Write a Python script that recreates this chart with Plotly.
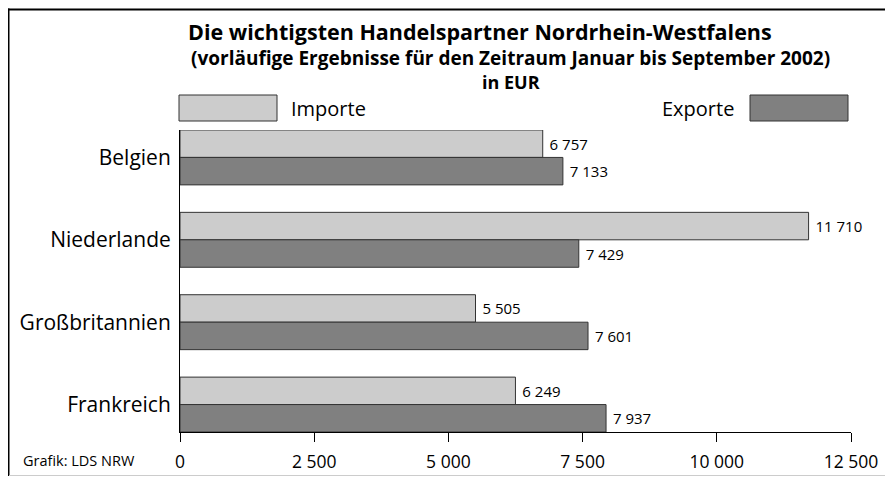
import plotly.graph_objects as go

categories = ["Belgien", "Niederlande", "Großbritannien", "Frankreich"]
importe = [6757, 11710, 5505, 6249]
exporte = [7133, 7429, 7601, 7937]
tick_vals = [0, 2500, 5000, 7500, 10000, 12500]
tick_text = ["0", "2 500", "5 000", "7 500", "10 000", "12 500"]
title_lines = ["Die wichtigsten Handelspartner Nordrhein-Westfalens",
               "(vorläufige Ergebnisse für den Zeitraum Januar bis September 2002)",
               "in EUR"]

def fmt(v):
    return "\u00a0" + f"{v:,}".replace(",", " ")

# page offset of the plot div (body margin)
OFF = 8
W, H = 893 - OFF, 477 - OFF
# plot area in page pixels
L, R, T, B = 180, 851, 130, 432
FONT = "Open Sans"

def px(x):
    return (x - L) / (R - L)

def py(y):
    return (B - y) / (B - T)

fig = go.Figure()
fig.add_trace(go.Bar(
    name="Importe", y=categories, x=importe, orientation="h",
    marker=dict(color="#cccccc", line=dict(color="#333333", width=1)),
    text=[fmt(v) for v in importe], textposition="outside",
    textfont=dict(family=FONT, size=15, color="black"), cliponaxis=False,
))
fig.add_trace(go.Bar(
    name="Exporte", y=categories, x=exporte, orientation="h",
    marker=dict(color="#808080", line=dict(color="#333333", width=1)),
    text=[fmt(v) for v in exporte], textposition="outside",
    textfont=dict(family=FONT, size=15, color="black"), cliponaxis=False,
))

shapes = [
    dict(type="rect", xref="paper", yref="paper", x0=px(179), x1=px(277), y0=py(121), y1=py(95),
         fillcolor="#cccccc", line=dict(color="#333333", width=1)),
    dict(type="rect", xref="paper", yref="paper", x0=px(750), x1=px(848), y0=py(121), y1=py(95),
         fillcolor="#808080", line=dict(color="#333333", width=1)),
    # frame
    dict(type="line", xref="paper", yref="paper", x0=px(8.5), x1=px(8.5), y0=py(8.5), y1=py(476),
         line=dict(color="black", width=2)),
    dict(type="line", xref="paper", yref="paper", x0=px(8), x1=px(890), y0=py(9.5), y1=py(9.5),
         line=dict(color="black", width=2)),
    dict(type="line", xref="paper", yref="paper", x0=px(889.5), x1=px(889.5), y0=py(10), y1=py(476),
         line=dict(color="#555555", width=1)),
    dict(type="line", xref="paper", yref="paper", x0=px(9), x1=px(890), y0=py(475.5), y1=py(475.5),
         line=dict(color="#cccccc", width=1)),
]

def ann(text, x, y, size, xanchor="center", yanchor="middle"):
    return dict(text=text, x=px(x), y=py(y), xref="paper", yref="paper", showarrow=False,
                xanchor=xanchor, yanchor=yanchor, align="center",
                font=dict(family=FONT, size=size, color="black"))

annotations = [
    ann(f"<b>{title_lines[0]}</b>", 480, 31, 21.5),
    ann(f"<b>{title_lines[1]}</b>", 510, 58, 19),
    ann(f"<b>{title_lines[2]}</b>", 511, 82, 18),
    ann("Importe", 289, 108, 20, "left"),
    ann("Exporte", 736, 108, 20, "right"),
    ann("Grafik: LDS NRW", 21, 460, 14.5, "left"),
]

fig.update_layout(
    width=W, height=H,
    margin=dict(l=L - OFF, r=893 - R, t=T - OFF, b=477 - B, pad=0, autoexpand=False),
    paper_bgcolor="white", plot_bgcolor="white",
    barmode="group", bargap=1/3, bargroupgap=0,
    showlegend=False,
    shapes=shapes, annotations=annotations,
    font=dict(family=FONT, color="black"),
    xaxis=dict(range=[0, 12500], tickvals=tick_vals, ticktext=tick_text, showgrid=False,
               zeroline=False, showline=True, linecolor="black", linewidth=1,
               ticks="outside", ticklen=9, tickcolor="black", tickwidth=1, automargin=False,
               tickfont=dict(family=FONT, size=17.5, color="black"), ticklabelstandoff=5),
    yaxis=dict(categoryorder="array", categoryarray=categories, range=[3.333, -0.333],
               showgrid=False, zeroline=False, showline=True, linecolor="black", linewidth=1,
               ticks="", automargin=False,
               tickfont=dict(family=FONT, size=21, color="black"), ticklabelstandoff=4),
)

fig.write_html("out.html")
